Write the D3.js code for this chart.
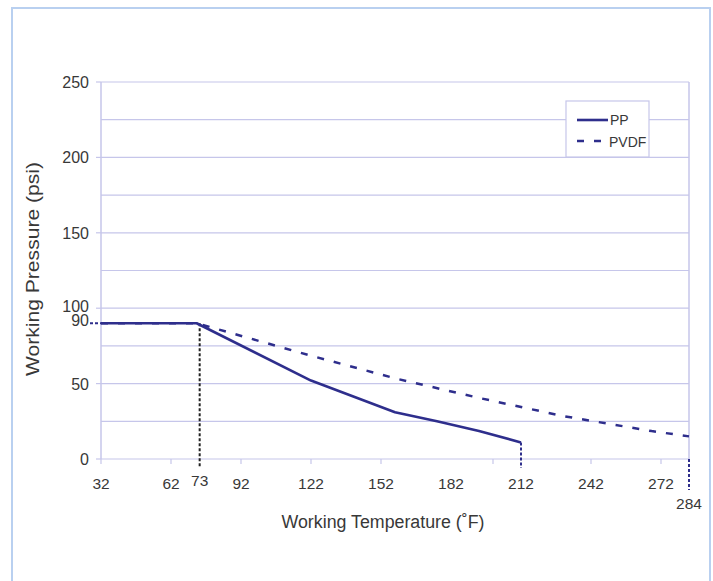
<!DOCTYPE html>
<html>
<head>
<meta charset="utf-8">
<script src="https://d3js.org/d3.v7.min.js"></script>
<style>
  html, body { margin: 0; padding: 0; background: #fff; }
  svg { display: block; }
  text { font-family: "Liberation Sans", Arial, sans-serif; fill: #383838; }
</style>
</head>
<body>
<svg id="chart" width="713" height="581"></svg>
<script>
// ---- data ----
const ppTemps      = [32, 73, 122, 158, 176, 194, 212];
const ppPressures  = [90, 90, 52, 31, 25, 18.5, 11];
const pvdfTemps     = [32, 73, 122, 158, 194, 230, 268, 284];
const pvdfPressures = [90, 90, 68.5, 53.5, 40.5, 28.5, 18.5, 15];
const yTicks = [0, 50, 100, 150, 200, 250];
const yGrid = [0, 25, 50, 75, 100, 125, 150, 175, 200, 225, 250];
const xTickLabels = [32, 62, 92, 122, 152, 182, 212, 242, 272];
const xTickMarks = [32, 62, 92, 122, 152, 200, 242, 272];
const seriesNames = ["PP", "PVDF"];

const svg = d3.select("#chart");
const x = d3.scaleLinear().domain([32, 284]).range([101, 689]);
const y = d3.scaleLinear().domain([0, 250]).range([459, 82]);
const lineCol = "#2e2e8c";
const gridCol = "#c6c6ea";

// outer frame
svg.append("rect").attr("x", 12).attr("y", 8).attr("width", 698).attr("height", 580)
  .attr("fill", "none").attr("stroke", "#b9d0f0").attr("stroke-width", 2);

// gridlines
svg.append("g").selectAll("line").data(yGrid).join("line")
  .attr("x1", x(32)).attr("x2", x(284))
  .attr("y1", d => y(d)).attr("y2", d => y(d))
  .attr("stroke", gridCol).attr("stroke-width", 1.2);

// axes lines
svg.append("line").attr("x1", x(32)).attr("x2", x(32)).attr("y1", y(250)).attr("y2", y(0))
  .attr("stroke", gridCol).attr("stroke-width", 1.5);
svg.append("line").attr("x1", x(284)).attr("x2", x(284)).attr("y1", y(250)).attr("y2", y(0))
  .attr("stroke", gridCol).attr("stroke-width", 1.5);

// y ticks
const yAxis = svg.append("g");
yAxis.selectAll("line").data(yTicks).join("line")
  .attr("x1", x(32) - 5).attr("x2", x(32))
  .attr("y1", d => y(d)).attr("y2", d => y(d))
  .attr("stroke", gridCol).attr("stroke-width", 1.2);
yAxis.selectAll("text").data(yTicks).join("text")
  .attr("x", 89).attr("y", d => y(d) + (d === 100 ? 4 : 6))
  .attr("text-anchor", "end").attr("font-size", 16)
  .text(d => d);
// extra label 90
svg.append("text").attr("x", 89).attr("y", y(90) + 3)
  .attr("text-anchor", "end").attr("font-size", 16).text("90");

// x ticks
const xAxis = svg.append("g");
xAxis.selectAll("line").data(xTickMarks).join("line")
  .attr("x1", d => x(d)).attr("x2", d => x(d))
  .attr("y1", y(0)).attr("y2", y(0) + 5)
  .attr("stroke", gridCol).attr("stroke-width", 1.2);
xAxis.selectAll("text").data(xTickLabels).join("text")
  .attr("x", d => x(d)).attr("y", 489)
  .attr("text-anchor", "middle").attr("font-size", 15.5)
  .text(d => d);
svg.append("text").attr("x", x(73) + 3).attr("y", 486)
  .attr("text-anchor", "middle").attr("font-size", 15.5).text("73");
svg.append("text").attr("x", x(284)).attr("y", 509)
  .attr("text-anchor", "middle").attr("font-size", 15.5).text("284");

// vertical marker lines
svg.append("line").attr("x1", x(73) + 3).attr("x2", x(73) + 3)
  .attr("y1", y(90)).attr("y2", 468)
  .attr("stroke", "#222").attr("stroke-width", 2).attr("stroke-dasharray", "3,2");
svg.append("line").attr("x1", x(212)).attr("x2", x(212))
  .attr("y1", y(ppPressures[ppPressures.length - 1])).attr("y2", 468)
  .attr("stroke", lineCol).attr("stroke-width", 2).attr("stroke-dasharray", "3,2");
svg.append("line").attr("x1", x(284)).attr("x2", x(284))
  .attr("y1", y(0)).attr("y2", 490)
  .attr("stroke", lineCol).attr("stroke-width", 2).attr("stroke-dasharray", "3,2");
// 90 level lead-in
svg.append("line").attr("x1", 90).attr("x2", x(32))
  .attr("y1", y(90)).attr("y2", y(90))
  .attr("stroke", lineCol).attr("stroke-width", 2).attr("stroke-dasharray", "3,2");

const line = d3.line().x(d => x(d[0])).y(d => y(d[1]));

// PVDF
svg.append("path").datum(pvdfTemps.map((t, i) => [t, pvdfPressures[i]]))
  .attr("d", line).attr("fill", "none").attr("stroke", lineCol)
  .attr("stroke-width", 2.5).attr("stroke-dasharray", "7,10");
// PP
svg.append("path").datum(ppTemps.map((t, i) => [t, ppPressures[i]]))
  .attr("d", line).attr("fill", "none").attr("stroke", lineCol)
  .attr("stroke-width", 2.6).attr("stroke-linejoin", "round");

// legend
const lg = svg.append("g");
lg.append("rect").attr("x", 566).attr("y", 101).attr("width", 83).attr("height", 56)
  .attr("fill", "#fff").attr("stroke", gridCol).attr("stroke-width", 1.2);
lg.append("line").attr("x1", 577).attr("x2", 608).attr("y1", 120).attr("y2", 120)
  .attr("stroke", lineCol).attr("stroke-width", 2.6);
lg.append("line").attr("x1", 577).attr("x2", 601).attr("y1", 141).attr("y2", 141)
  .attr("stroke", lineCol).attr("stroke-width", 2.6).attr("stroke-dasharray", "7,10");
lg.selectAll("text").data(seriesNames).join("text")
  .attr("x", (d, i) => i === 0 ? 610 : 609)
  .attr("y", (d, i) => i === 0 ? 125 : 147)
  .attr("font-size", 14).text(d => d);

// axis titles
svg.append("text").attr("x", 383).attr("y", 528).attr("text-anchor", "middle")
  .attr("font-size", 18).attr("textLength", 203).attr("lengthAdjust", "spacingAndGlyphs")
  .text("Working Temperature (˚F)");
svg.append("text").attr("transform", "translate(39,269) rotate(-90)")
  .attr("text-anchor", "middle").attr("font-size", 18)
  .attr("textLength", 214).attr("lengthAdjust", "spacingAndGlyphs")
  .text("Working Pressure (psi)");
</script>
</body>
</html>
